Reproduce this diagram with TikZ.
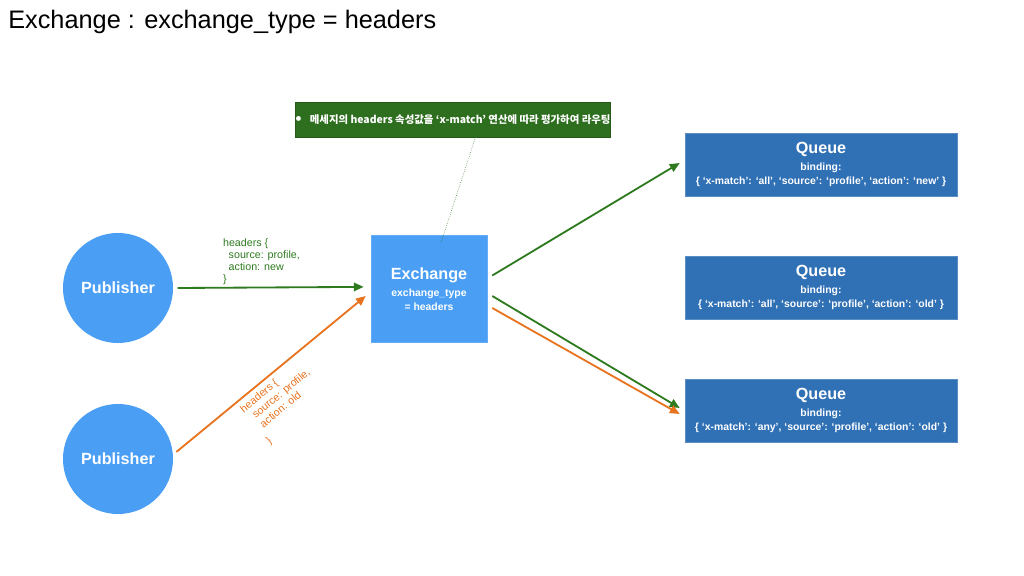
\documentclass[tikz,border=0pt]{standalone}
\usepackage{fontspec}
\setmainfont{Liberation Sans}
\newfontfamily\cjk{Noto Sans CJK KR}
\usetikzlibrary{arrows.meta}

\definecolor{pubblue}{HTML}{4A9FF5}
\definecolor{queueblue}{HTML}{3070B5}
\definecolor{notegreen}{HTML}{2E6E1F}
\definecolor{arrgreen}{HTML}{2D7A1F}
\definecolor{arrorange}{HTML}{E8731F}

\newcommand{\headfnt}{\bfseries\fontsize{11.5}{15}\selectfont}
\newcommand{\smallfnt}{\bfseries\fontsize{7.4}{10}\selectfont}

\begin{document}
\begin{tikzpicture}[x=0.025cm,y=-0.025cm,
    pub/.style={circle,fill=pubblue,text=white,minimum size=2.75cm,inner sep=0pt,font=\headfnt},
    exbox/.style={fill=pubblue,draw=pubblue!85!white,minimum width=2.9cm,minimum height=2.675cm,
      text=white,align=center,inner sep=0pt,font=\smallfnt},
    qbox/.style={fill=queueblue,draw=queueblue!80!white,minimum width=6.8cm,minimum height=1.575cm,
      text=white,align=center,inner sep=0pt,font=\smallfnt},
    flow/.style={line width=1.3pt,-{Triangle[length=7pt,width=6pt]}},
    lbl/.style={font=\fontsize{7.6}{8.6}\selectfont,align=left,inner sep=0pt}]
  \useasboundingbox (0,0) rectangle (1024,576);

  \node[anchor=west,inner sep=0pt,font=\fontsize{18}{22}\selectfont] (title) at (8,22)
    {Exchange : exchange\_type = headers};

  % publishers
  \node[pub] (pub1) at (118,288) {Publisher};
  \node[pub] (pub2) at (118,459) {Publisher};

  % exchange
  \node[exbox] (exch) at (429,289) {{\headfnt Exchange}\\[2pt]exchange\_type\\= headers};

  % queues
  \node[qbox] (q1) at (821,164.5) {{\headfnt Queue}\\[1.5pt]binding:\\
    \{ ‘x-match’: ‘all’, ‘source’: ‘profile’, ‘action’: ‘new’ \}};
  \node[qbox] (q2) at (821,287.5) {{\headfnt Queue}\\[1.5pt]binding:\\
    \{ ‘x-match’: ‘all’, ‘source’: ‘profile’, ‘action’: ‘old’ \}};
  \node[qbox] (q3) at (821,410.5) {{\headfnt Queue}\\[1.5pt]binding:\\
    \{ ‘x-match’: ‘any’, ‘source’: ‘profile’, ‘action’: ‘old’ \}};

  % note
  \node[fill=notegreen,draw=notegreen!80!black,minimum width=7.8cm,minimum height=0.875cm,
    text=white,inner sep=0pt,font=\smallfnt] (note) at (453,119.5)
    {\raisebox{-0.5pt}{\large\textbullet}\hspace{6pt}{\cjk\bfseries 메세지의 headers 속성값을 ‘x-match’ 연산에 따라 평가하여 라우팅}};
  \draw[arrgreen,densely dotted,thin] ([xshift=16]note.south) -- ([shift={(12,7.5)}]exch.north);

  % publisher -> exchange
  \draw[flow,arrgreen] ([xshift=3]pub1.east) -- ([xshift=-5,yshift=1.5]exch.west)
    node[lbl,text=arrgreen,pos=0.24,anchor=south west,yshift=1.5pt]
    {headers \{\\\hspace*{4pt}source: profile,\\\hspace*{4pt}action: new\\\}};
  \draw[flow,arrorange] ([shift={(3,-7)}]pub2.east) -- ([shift={(-5,7)}]exch.west)
    node[lbl,text=arrorange,pos=0.31,sloped,anchor=north west,yshift=-3pt]
    {headers \{\\\hspace*{4pt}source: profile,\\\hspace*{4pt}action: old\\[3pt]\}};

  % exchange -> queues
  \draw[flow,arrgreen] ([shift={(5,-13.5)}]exch.east) -- ([shift={(-5,-1.5)}]q1.west);
  \draw[flow,arrgreen] ([shift={(5,7)}]exch.east) -- ([shift={(-5,-2.5)}]q3.west);
  \draw[flow,arrorange] ([shift={(5,19)}]exch.east) -- ([shift={(-5,3.5)}]q3.west);
\end{tikzpicture}
\end{document}
